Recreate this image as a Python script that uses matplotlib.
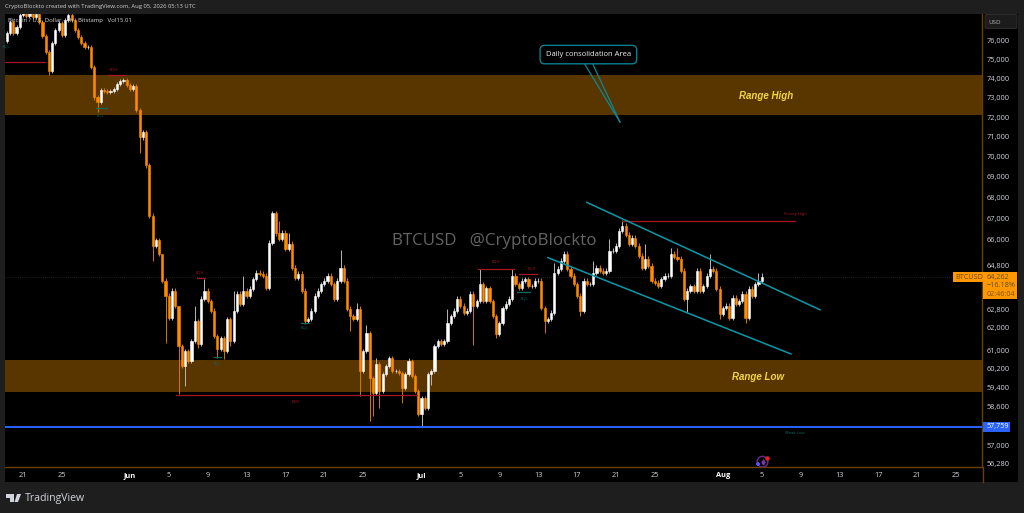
import matplotlib
matplotlib.use("Agg")
import matplotlib.pyplot as plt
import matplotlib.dates as mdates
from matplotlib.patches import Rectangle, FancyBboxPatch, Polygon
from matplotlib.ticker import NullLocator, FixedLocator, FixedFormatter, NullFormatter
import pandas as pd

closes = [
76430,77040,76430,76770,77420,77530,77360,77530,77310,77470,77040,76270,75400,74390,75890,76600,76980,76330,77150,77420,
77150,76600,76220,75890,75680,75680,74600,73020,72770,73390,73340,73290,73340,73440,73700,73860,73910,73650,73440,73600,
72350,70970,71220,69570,67130,65710,65950,65340,64090,63410,62420,63640,62960,61190,60320,60970,60540,61410,62290,61280,
63280,63640,63180,62740,61630,61060,61540,60970,62380,61410,62740,63500,63050,63640,63410,63730,64180,64460,64410,64320,
63770,65850,67230,66280,66040,66320,65570,65800,64690,64230,64410,63640,62290,62380,62740,63410,63640,63950,64090,64320,
63950,63280,64090,64690,64090,62830,62510,62380,62830,60110,60970,61760,59810,59170,60410,59260,59980,60320,60670,60110,
60110,60020,59380,59980,60540,59890,59260,58290,58960,58540,59980,60110,61190,61410,61280,61410,62200,62510,62740,63280,
62960,62650,62740,63500,62960,63180,63950,63180,63770,63180,62510,61720,62200,62870,63050,63280,64320,63950,63770,64090,
64180,63860,63860,64090,64090,62870,62290,62380,62650,64460,64640,65010,65340,64640,64320,63950,63410,62740,64090,63950,
63950,64460,64690,64550,64460,64550,65480,65480,65710,66420,66650,66230,65800,66090,65710,65240,64690,65100,64780,64090,
64000,63860,64180,64320,64320,65340,65200,65100,64550,63280,63640,63860,63640,64550,63640,63860,64320,64640,64550,63730,
62600,62870,62960,62420,63320,63050,63180,63500,62420,63730,63410,63950,64090,64262]
first_open = 76000
start_time = "2026-05-19 08:00"
candle_hours = 8
high_spikes = {48:64640,53:61890,58:62960,61:64180,70:63640,73:64320,84:66890,87:66320,103:65520,108:63100,
               114:60650,124:60670,146:64640,156:64640,172:65480,190:66930,197:65800,205:65620,207:65620,
               217:65340,232:64460,233:64460,111:62100,169:64900,181:65000,136:62800,186:66000}
low_spikes = {13:74180,28:72250,49:61320,53:59130,55:59470,65:60670,67:60620,69:61200,92:62150,106:61850,
              109:59050,112:58000,113:58210,115:58540,122:58750,127:58210,128:57759,131:59510,144:61230,
              151:61540,166:61760,177:62510,210:62690,220:62380,228:62200,41:70200,45:65000,59:61100}

price_ticks = [76000,75000,74000,73000,72000,71000,70000,69000,68000,67000,66000,64800,62800,62000,61000,60200,59400,58600,57000,56280]
price_labels = ["76,000","75,000","74,000","73,000","72,000","71,000","70,000","69,000","68,000","67,000","66,000","64,800","62,800","62,000","61,000","60,200","59,400","58,600","57,000","56,280"]
time_ticks = ["2026-05-21","2026-05-25","2026-06-01","2026-06-05","2026-06-09","2026-06-13","2026-06-17","2026-06-21","2026-06-25","2026-07-01","2026-07-05","2026-07-09","2026-07-13","2026-07-17","2026-07-21","2026-07-25","2026-08-01","2026-08-05","2026-08-09","2026-08-13","2026-08-17","2026-08-21","2026-08-25"]
time_labels = ["21","25","Jun","5","9","13","17","21","25","Jul","5","9","13","17","21","25","Aug","5","9","13","17","21","25"]

range_high = (72094, 74160)
range_low = (59230, 60580)
weak_low_line = 57759
last_price = 64262

channel_upper = (("2026-07-18 00:00", 67760), ("2026-08-11 00:00", 62780))
channel_lower = (("2026-07-14 00:00", 65150), ("2026-08-08 00:00", 60840))
callout_tip = ("2026-07-21 10:00", 71740)
callout_bases = [("2026-07-17 19:00", 74760), ("2026-07-18 15:00", 74760)]
callout_text = ("2026-07-18 04:00", 75270)

red = "#a31622"
teal = "#0b6b5c"
structure_lines = [
    ("2026-05-19 04:00","2026-05-23 06:00",74900,red),
    ("2026-05-29 18:00","2026-05-31 12:00",74180,red),
    ("2026-05-28 12:00","2026-05-29 15:00",72450,teal),
    ("2026-06-05 18:00","2026-06-30 12:00",59090,red),
    ("2026-06-07 21:00","2026-06-08 17:00",64200,red),
    ("2026-06-09 15:00","2026-06-10 09:00",60710,teal),
    ("2026-06-18 14:00","2026-06-19 10:00",62200,teal),
    ("2026-07-06 19:00","2026-07-10 12:00",64620,red),
    ("2026-07-11 00:00","2026-07-12 22:00",64410,red),
    ("2026-07-10 19:00","2026-07-12 05:00",63590,teal),
    ("2026-07-21 14:00","2026-08-08 10:00",66890,red),
]
structure_labels = [
    ("2026-05-19 06:00",75730,"EQL",teal),("2026-05-30 09:00",74490,"EQH",red),("2026-05-29 00:00",72090,"EQL",teal),
    ("2026-06-08 05:00",64460,"EQH",red),("2026-06-09 23:00",60410,"EQL",teal),("2026-06-18 02:00",58790,"BOS",red),
    ("2026-06-19 00:00",61980,"EQL",teal),("2026-07-08 16:00",64970,"EQH",red),("2026-07-12 09:00",64640,"EQH",red),
    ("2026-07-11 13:00",63280,"EQL",teal),("2026-08-08 10:00",67180,"Strong High",red),("2026-08-08 10:00",57520,"Weak Low",teal),
]

W, H = 1024, 513
ORANGE = "#ff8a00"
fig = plt.figure(figsize=(W/100, H/100), dpi=100, facecolor="#1e1e1e")
plt.rcParams["font.family"] = ["Open Sans", "DejaVu Sans"]

def fx(x): return x / W
def fy(y): return 1 - y / H

fig.patches.append(Rectangle((fx(5), fy(482)), (1018-5)/W, (482-14)/H, transform=fig.transFigure, facecolor="black", edgecolor="none", zorder=-5))

ax = fig.add_axes([fx(5), fy(467), (982-5)/W, (467-14)/H], facecolor="black")
ax.set_yscale("log")
ax.set_ylim(56140, 77473)
base = mdates.date2num(pd.Timestamp("2026-05-21"))
ax.set_xlim(base - 18/9.72, base + (982-23)/9.72)

times = pd.date_range(start_time, periods=len(closes), freq=f"{candle_hours}h")
xs = mdates.date2num(times)
opens = [first_open] + closes[:-1]
for i, (x, o, c) in enumerate(zip(xs, opens, closes)):
    col = "#ffffff" if c >= o else ORANGE
    wick_col = "#b8b8b8" if c >= o else "#d97500"
    top, bot = max(o, c), min(o, c)
    hi = high_spikes.get(i, top * 1.0016)
    lo = low_spikes.get(i, bot * 0.9984)
    ax.vlines(x, lo, hi, color=wick_col, lw=0.7, zorder=3)
    ax.bar(x, top - bot, bottom=bot, width=0.22, color=col, linewidth=0.4, edgecolor=col, zorder=4)

ax.axhspan(*range_high, color="#593600", lw=0, zorder=1)
ax.axhspan(*range_low, color="#593600", lw=0, zorder=1)
ax.axhline(weak_low_line, color="#2962ff", lw=1.4, zorder=5)
ax.axhline(last_price, color="#3f3a30", lw=0.5, ls=(0, (1, 2)), zorder=2)

def ts(s): return mdates.date2num(pd.Timestamp(s))

for (a, b) in (channel_upper, channel_lower):
    ax.plot([ts(a[0]), ts(b[0])], [a[1], b[1]], color="#0a98a8", lw=1.1, zorder=6)
for b in callout_bases:
    ax.plot([ts(b[0]), ts(callout_tip[0])], [b[1], callout_tip[1]], color="#0a8796", lw=0.9, zorder=6)
ax.text(ts(callout_text[0]), callout_text[1], "Daily consolidation Area", color="#f0f0f0", fontsize=5.5,
        ha="center", va="center", fontweight="medium", zorder=8,
        bbox=dict(boxstyle="round,pad=0.75,rounding_size=0.6", facecolor="black", edgecolor="#0a7f8e", lw=1.0))

for s0, s1, p, col in structure_lines:
    ax.plot([ts(s0), ts(s1)], [p, p], color=col, lw=0.9, zorder=5)
for s, p, txt, col in structure_labels:
    ax.text(ts(s), p, txt, color=col, fontsize=3, ha="center", va="center", zorder=6)

ax.text(ts("2026-08-05 12:00"), 73100, "Range High", color="#f2d544", fontsize=7.0, fontweight="bold", fontstyle="italic",
        ha="center", va="center", family="Liberation Sans", zorder=6)
ax.text(ts("2026-08-04 14:00"), 59850, "Range Low", color="#f2d544", fontsize=7.0, fontweight="bold", fontstyle="italic",
        ha="center", va="center", family="Liberation Sans", zorder=6)

# alert icon
ax.scatter([ts("2026-08-05 02:00")], [56350], s=60, facecolor="none", edgecolor="#6a2a8c", lw=1.0, zorder=7)
ax.scatter([ts("2026-08-05 02:00")], [56350], s=6, marker="d", color="#7d35a8", zorder=7)
ax.scatter([ts("2026-08-05 12:00")], [56520], s=5, color="#e02020", zorder=8)
ax.scatter([ts("2026-08-04 14:00")], [56260], s=9, marker="P", color="#5a50f0", lw=0, zorder=8)

# axes furniture
for side in ("top", "left"):
    ax.spines[side].set_visible(False)
for side in ("right", "bottom"):
    ax.spines[side].set_color("#6b4000")
    ax.spines[side].set_linewidth(1.0)
ax.yaxis.tick_right()
ax.yaxis.set_major_locator(FixedLocator(price_ticks))
ax.yaxis.set_major_formatter(FixedFormatter(price_labels))
ax.yaxis.set_minor_locator(NullLocator())
ax.yaxis.set_minor_formatter(NullFormatter())
ax.tick_params(axis="y", length=0, pad=3.6, labelsize=5.3, labelcolor="#d1d4dc")
ax.set_xticks([ts(t) for t in time_ticks])
ax.set_xticklabels(time_labels)
ax.tick_params(axis="x", length=0, pad=3.4, labelsize=5.3, labelcolor="#d1d4dc")
for lab in ax.get_xticklabels():
    if lab.get_text() in ("Jun", "Jul", "Aug"):
        lab.set_fontweight("bold")
        lab.set_color("#ffffff")

# vertical continuation of the price-scale divider
fig.add_artist(plt.Line2D([fx(982.5), fx(982.5)], [fy(467), fy(482)], color="#6b4000", lw=1.0))

# overlay text
fig.text(fx(5), fy(7), "CryptoBlockto created with TradingView.com, Aug 05, 2026 05:13 UTC", color="#d0d0d0", fontsize=4.25, va="center")
fig.text(fx(8), fy(20.5), "Bitcoin / U.S. Dollar · 4h · Bitstamp   Vol15.01", color="#d8d8d8", fontsize=4.3, va="center", zorder=20)
fig.text(fx(494), fy(241), "BTCUSD   @CryptoBlockto", color="#646464", fontsize=12.2, ha="center", va="center", zorder=20)

# USD box
fig.patches.append(FancyBboxPatch((fx(985), fy(28.5)), 32/W, 14/H, boxstyle="round,pad=0,rounding_size=0.002",
                                  transform=fig.transFigure, facecolor="#1c1c1c", edgecolor="#333333", lw=0.6, zorder=10))
fig.text(fx(988), fy(22), "USD", color="#b0b0b0", fontsize=4.5, va="center", zorder=21)

# price labels
fig.patches.append(Rectangle((fx(953), fy(282)), 29.5/W, 10/H, transform=fig.transFigure, facecolor="#ff9800", edgecolor="none", zorder=10))
fig.patches.append(Rectangle((fx(982.5), fy(298.5)), 34.5/W, 26.5/H, transform=fig.transFigure, facecolor="#ff9800", edgecolor="none", zorder=10))
fig.text(fx(955), fy(277.3), "BTCUSD", color="#6b4300", fontsize=5.2, va="center", zorder=21)
for yy, txt, c in ((277.3, "64,262", "#5f4a22"), (285.5, "−16.18%", "#5f4a22"), (294, "02:46:04", "#7a5200")):
    fig.text(fx(987), fy(yy), txt, color=c, fontsize=5.2, va="center", zorder=21)
fig.patches.append(Rectangle((fx(982.5), fy(431.5)), 27.5/W, 10/H, transform=fig.transFigure, facecolor="#2962ff", edgecolor="none", zorder=10))
fig.text(fx(987), fy(426.8), "57,759", color="#ffffff", fontsize=5.2, va="center", zorder=21)

# TradingView mark
logo = "#d1d4dc"
fig.patches.append(Polygon([(fx(6), fy(494)), (fx(13.5), fy(494)), (fx(13.5), fy(502)), (fx(10), fy(502)), (fx(10), fy(497.5)), (fx(6), fy(497.5))],
                           transform=fig.transFigure, facecolor=logo, edgecolor="none", zorder=10))
fig.patches.append(Polygon([(fx(17), fy(494)), (fx(21), fy(494)), (fx(18), fy(502)), (fx(14.5), fy(502))],
                           transform=fig.transFigure, facecolor=logo, edgecolor="none", zorder=10))
fig.text(fx(24.5), fy(498), "TradingView", color=logo, fontsize=7.6, va="center", fontweight="medium", zorder=21)

fig.savefig("out.png", dpi=100, facecolor=fig.get_facecolor())
